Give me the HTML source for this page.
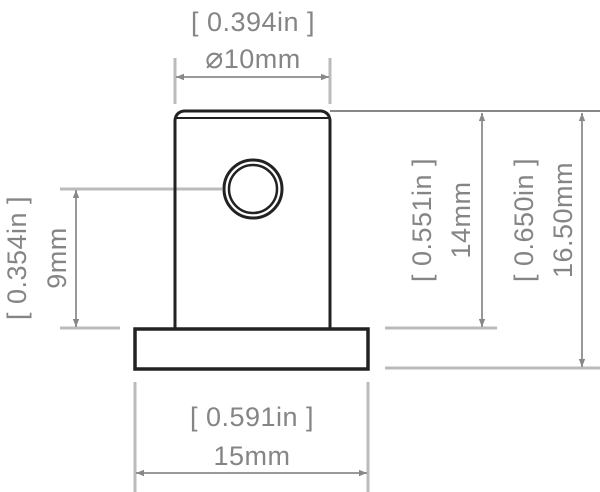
<!DOCTYPE html>
<html><head><style>html,body{margin:0;padding:0;background:#fff}svg{display:block}</style></head>
<body>
<svg width="600" height="492" viewBox="0 0 600 492" xmlns="http://www.w3.org/2000/svg" font-family="Liberation Sans, sans-serif">
<defs>
<marker id="a" viewBox="0 0 10 10" refX="10" refY="5" markerWidth="10" markerHeight="8" orient="auto-start-reverse" markerUnits="userSpaceOnUse"><path d="M0,1 L10,5 L0,9 z" fill="#888"/></marker>
</defs>
<g stroke="#bbb" stroke-width="3" fill="none">
<line x1="175" y1="58" x2="175" y2="104"/>
<line x1="330" y1="58" x2="330" y2="104"/>
<line x1="60" y1="189" x2="222" y2="189"/>
<line x1="60" y1="328" x2="120" y2="328"/>
<line x1="385" y1="328" x2="497" y2="328"/>
<line x1="385" y1="368" x2="600" y2="368"/>
<line x1="135" y1="382" x2="135" y2="492"/>
<line x1="368" y1="382" x2="368" y2="492"/>
</g>
<line x1="330" y1="111" x2="600" y2="111" stroke="#888" stroke-width="2"/>
<g stroke="#999" stroke-width="2" fill="none" marker-start="url(#a)" marker-end="url(#a)">
<line x1="176" y1="77" x2="329" y2="77"/>
<line x1="76" y1="190" x2="76" y2="327"/>
<line x1="482" y1="113" x2="482" y2="327"/>
<line x1="582" y1="113" x2="582" y2="367"/>
<line x1="136" y1="473" x2="367" y2="473"/>
</g>
<g stroke="#222" stroke-width="3" fill="none">
<path d="M175,329 L175,120 Q176,112 184,111 L321,111 Q329,112 330,120 L330,329"/>
<line x1="176" y1="118" x2="329" y2="118" stroke-width="2"/>
<rect x="135" y="329" width="233" height="40" stroke-width="3.5"/>
<circle cx="253" cy="189" r="29" stroke-width="3"/>
<circle cx="253" cy="189" r="24" stroke-width="2.5"/>
</g>
<g fill="#858585" font-size="27" text-anchor="middle" letter-spacing="0.5">
<text x="253" y="31" xml:space="preserve">[ 0.394in ]</text>
<text x="253" y="68"><tspan font-size="30">⌀</tspan>10mm</text>
<text x="252" y="426" xml:space="preserve">[ 0.591in ]</text>
<text x="252" y="465">15mm</text>
<text transform="translate(26,258) rotate(-90)" xml:space="preserve">[ 0.354in ]</text>
<text transform="translate(66,258) rotate(-90)">9mm</text>
<text transform="translate(431,220) rotate(-90)" xml:space="preserve">[ 0.551in ]</text>
<text transform="translate(470,220) rotate(-90)">14mm</text>
<text transform="translate(533,220) rotate(-90)" xml:space="preserve">[ 0.650in ]</text>
<text transform="translate(572,220) rotate(-90)">16.50mm</text>
</g>
</svg>
</body></html>
